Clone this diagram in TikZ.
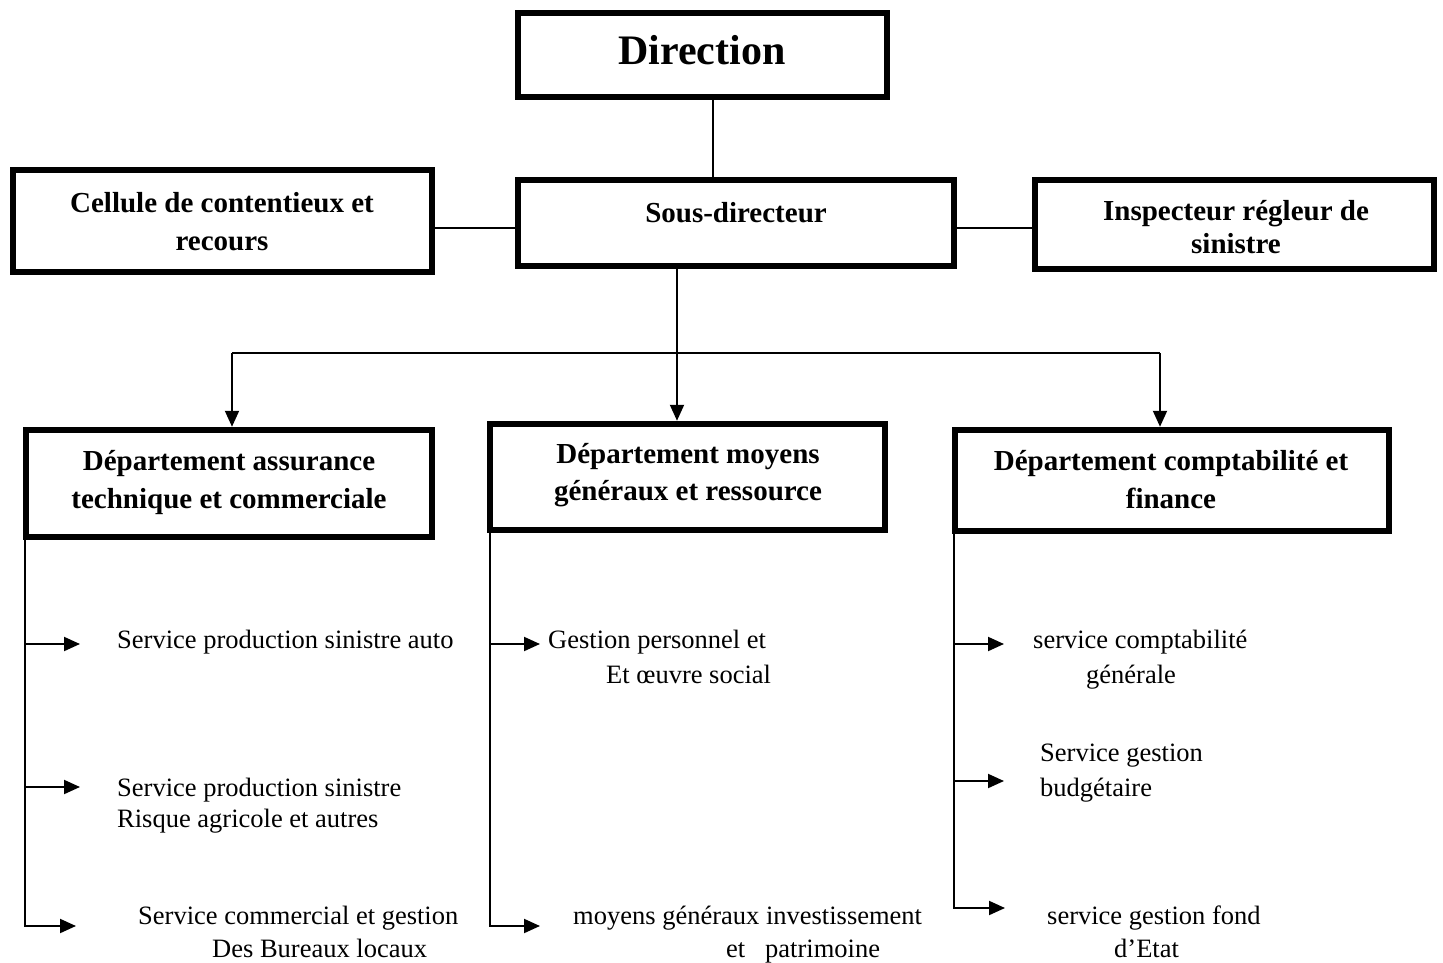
\documentclass[tikz,border=0pt]{standalone}
\usepackage{fontspec}
\setmainfont{Liberation Serif}
\usetikzlibrary{arrows.meta}
\begin{document}
\begin{tikzpicture}[x=1pt,y=-1pt,
  box/.style={draw, line width=6.5pt, rectangle, inner sep=0pt},
  btxt/.style={font=\fontsize{29}{34}\selectfont\bfseries, inner sep=0pt, anchor=base},
  stxt/.style={font=\fontsize{26.5}{32}\selectfont, inner sep=0pt, anchor=base west},
  link/.style={line width=2pt},
  arr/.style={line width=2pt, -{Triangle[length=16pt,width=14pt]}},
]
\fill[white] (0,0) rectangle (1443,963);
\useasboundingbox (0,0) rectangle (1443,963);

% boxes
\node[box, minimum width=369pt, minimum height=84pt] (dir) at (702.5,55) {};
\node[box, minimum width=436pt, minimum height=86pt] (sous) at (736,223) {};
\node[box, minimum width=419pt, minimum height=102pt] (cell) at (222.5,221) {};
\node[box, minimum width=399pt, minimum height=89pt] (insp) at (1234.5,224.5) {};
\node[box, minimum width=406pt, minimum height=107pt] (d1) at (229,483.5) {};
\node[box, minimum width=395pt, minimum height=106pt] (d2) at (687.5,477) {};
\node[box, minimum width=434pt, minimum height=101pt] (d3) at (1172,480.5) {};

% box labels
\node[btxt, font=\fontsize{42}{48}\selectfont\bfseries] (dirT) at (702,65) {Direction};
\node[btxt] (sousT) at (736,222) {Sous-directeur};
\node[btxt] (cellT1) at (222,212) {Cellule de contentieux et};
\node[btxt] (cellT2) at (222,250) {recours};
\node[btxt] (inspT1) at (1236,220) {Inspecteur régleur de};
\node[btxt] (inspT2) at (1236,253) {sinistre};
\node[btxt] (d1T1) at (229,470) {Département assurance};
\node[btxt] (d1T2) at (229,508) {technique et commerciale};
\node[btxt] (d2T1) at (688,463) {Département moyens};
\node[btxt] (d2T2) at (688,500) {généraux et ressource};
\node[btxt] (d3T1) at (1171,470) {Département comptabilité et};
\node[btxt] (d3T2) at (1171,508) {finance};

% top connectors
\coordinate (xa) at (713,0);
\coordinate (ya) at (0,228);
\coordinate (xb) at (677,0);
\coordinate (bus1) at (232,353);
\coordinate (bus3) at (1160,353);
\draw[link] (dir.south -| xa) -- (sous.north -| xa);
\draw[link] (cell.east |- ya) -- (sous.west |- ya);
\draw[link] (sous.east |- ya) -- (insp.west |- ya);
\draw[link] (bus1) -- (bus3);
\draw[arr] (sous.south -| xb) -- (d2.north -| xb);
\draw[arr] (bus1) -- (d1.north -| bus1);
\draw[arr] (bus3) -- (d3.north -| bus3);

% left subtree
\coordinate (t1) at (25,926);
\coordinate (e11) at (80,644);
\coordinate (e12) at (80,787);
\coordinate (e13) at (76,926);
\draw[arr] (d1.south -| t1) -- (t1) -- (e13);
\draw[arr] (e11 -| t1) -- (e11);
\draw[arr] (e12 -| t1) -- (e12);
\node[stxt] (s11) at (117,648) {Service production sinistre auto};
\node[stxt] (s12a) at (117,796) {Service production sinistre};
\node[stxt] (s12b) at (117,827) {Risque agricole et autres};
\node[stxt] (s13a) at (138,924) {Service commercial et gestion};
\node[stxt] (s13b) at (212,957) {Des Bureaux locaux};

% middle subtree
\coordinate (t2) at (490,926);
\coordinate (e21) at (540,644);
\coordinate (e22) at (540,926);
\draw[arr] (d2.south -| t2) -- (t2) -- (e22);
\draw[arr] (e21 -| t2) -- (e21);
\node[stxt] (s21a) at (548,648) {Gestion personnel et};
\node[stxt] (s21b) at (606,683) {Et œuvre social};
\node[stxt] (s22a) at (573,924) {moyens généraux investissement};
\node[stxt] (s22b) at (726,957) {et\ \ \ patrimoine};

% right subtree
\coordinate (t3) at (954,908);
\coordinate (e31) at (1004,644);
\coordinate (e32) at (1004,781);
\coordinate (e33) at (1005,908);
\draw[arr] (d3.south -| t3) -- (t3) -- (e33);
\draw[arr] (e31 -| t3) -- (e31);
\draw[arr] (e32 -| t3) -- (e32);
\node[stxt] (s31a) at (1033,648) {service comptabilité};
\node[stxt] (s31b) at (1086,683) {générale};
\node[stxt] (s32a) at (1040,761) {Service gestion};
\node[stxt] (s32b) at (1040,796) {budgétaire};
\node[stxt] (s33a) at (1047,924) {service gestion fond};
\node[stxt] (s33b) at (1114,957) {d’Etat};
\end{tikzpicture}
\end{document}
